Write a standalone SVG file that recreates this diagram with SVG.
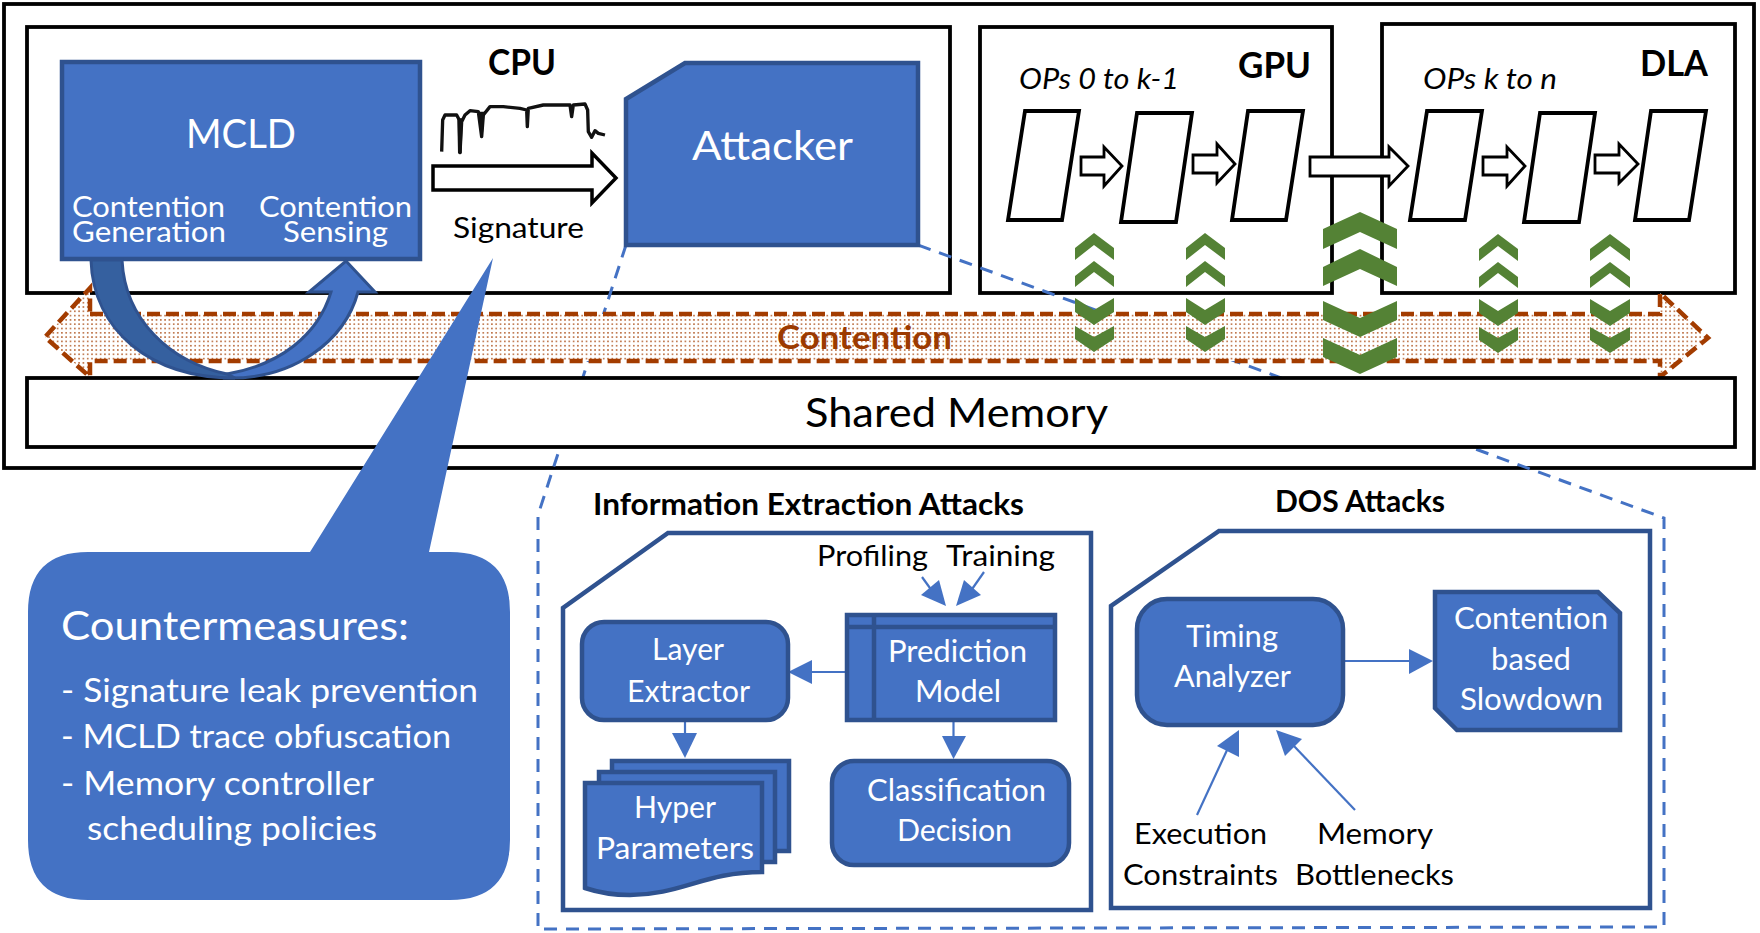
<svg xmlns="http://www.w3.org/2000/svg" width="1760" height="933" viewBox="0 0 1760 933">
<style>
text{font-family:Lato,"Liberation Sans",sans-serif;font-weight:400}
.w{fill:#fff}.k{fill:#000}
.b{font-weight:700;fill:#000}
.i{font-style:italic;fill:#000}
.box{fill:#fff;stroke:#000;stroke-width:3.8}
.blue{fill:#4472c4;stroke:#2f528f;stroke-width:4.5}
.cont{fill:#fff;stroke:#2f528f;stroke-width:4.5}
.wa{fill:#fff;stroke:#000;stroke-width:3.5}
.op{fill:#fff;stroke:#000;stroke-width:3.8}
.ln{stroke:#4472c4;stroke-width:2.2;fill:none}
.hd{fill:#4472c4;stroke:none}
.gr{fill:#548235}
.s28{font-size:29px}.s29{font-size:30px}.s27{font-size:28px}.s32{font-size:33px}
</style>
<defs>
<pattern id="dots" width="4.3" height="4.3" patternUnits="userSpaceOnUse">
<rect width="4.3" height="4.3" fill="#fff"/>
<rect x="1" y="1" width="1.4" height="1.4" fill="#a33c00"/>
</pattern>
</defs>

<g id="system"><rect class="box" x="4" y="4" width="1750" height="464"/></g>
<g id="cpu-box"><rect class="box" x="27" y="27" width="923" height="266"/></g>
<g id="gpu-box"><rect class="box" x="980" y="27" width="352" height="266"/></g>
<g id="dla-box"><rect class="box" x="1382" y="24" width="353" height="269"/></g>
<g id="ie-container"><polygon class="cont" points="668,533 1091,533 1091,910 563,910 563,608"/></g>
<g id="dos-container"><polygon class="cont" points="1219,531 1650,531 1650,908 1111,908 1111,606"/></g>

<g id="connectors">
<polyline fill="none" stroke="#4472c4" stroke-width="3" stroke-dasharray="13 9" points="626,245 538,515 538,929 1664,927 1664,518 918,245"/>
<polygon class="wa" points="433,166 592,166 592,153 616,178 592,203 592,190 433,190"/>
<polygon class="wa" stroke-width="2.8" style="stroke-width:2.8" points="1081,157 1104,157 1104,147 1122,166 1104,186 1104,175 1081,175"/>
<polygon class="wa" style="stroke-width:2.8" points="1193,155 1217,155 1217,144 1235,164 1217,183 1217,173 1193,173"/>
<polygon class="wa" style="stroke-width:2.8" points="1310,157 1389,157 1389,147 1408,166 1389,186 1389,176 1310,176"/>
<polygon class="wa" style="stroke-width:2.8" points="1483,157 1507,157 1507,147 1525,166 1507,186 1507,175 1483,175"/>
<polygon class="wa" style="stroke-width:2.8" points="1595,155 1619,155 1619,144 1638,164 1619,183 1619,173 1595,173"/>
<line class="ln" x1="922" y1="577" x2="935" y2="595"/><polygon class="hd" points="946,606 921,595 939,580"/>
<line class="ln" x1="984" y1="572" x2="970" y2="592"/><polygon class="hd" points="956,606 981,595 964,580"/>
<line class="ln" x1="846" y1="672" x2="805" y2="672"/><polygon class="hd" points="788,672 812,660 812,684"/>
<line class="ln" x1="685" y1="720" x2="685" y2="735"/><polygon class="hd" points="685,758 672,733 697,733"/>
<line class="ln" x1="953.500" y1="720" x2="953.500" y2="738"/><polygon class="hd" points="953.500,759 942,736 966,736"/>
<line class="ln" x1="1343" y1="661" x2="1412" y2="661"/><polygon class="hd" points="1433,661 1409,649 1409,674"/>
<line class="ln" x1="1197" y1="815" x2="1228" y2="748"/><polygon class="hd" points="1239,730 1217,746 1239,757"/>
<line class="ln" x1="1355" y1="810" x2="1293" y2="745"/><polygon class="hd" points="1276,730 1302,739 1285,756"/>
</g>

<g id="contention"><polygon fill="url(#dots)" stroke="#a33c00" stroke-width="4.5" stroke-dasharray="13 6" points="90,314 1660,314 1660,293 1708,338 1660,377 1660,361 90,361 90,377 45,337 90,288"/>
<text x="777" y="349" textLength="175" lengthAdjust="spacingAndGlyphs" font-size="32" style="font-weight:700;fill:#9c3a00">Contention</text></g>

<g id="shared-memory"><rect class="box" x="27" y="378" width="1708" height="69"/>
<text class="k" x="805" y="427" textLength="303" lengthAdjust="spacingAndGlyphs" font-size="41">Shared Memory</text></g>

<g id="cpu-label"><text class="b" x="488" y="75" textLength="68" lengthAdjust="spacingAndGlyphs" font-size="36">CPU</text></g>

<g id="mcld"><rect class="blue" x="62" y="62" width="358" height="197"/>
<text class="w" x="186" y="148" textLength="110" lengthAdjust="spacingAndGlyphs" font-size="41">MCLD</text>
<text class="w s28" x="72" y="217" textLength="153" lengthAdjust="spacingAndGlyphs">Contention</text>
<text class="w s28" x="72" y="242" textLength="154" lengthAdjust="spacingAndGlyphs">Generation</text>
<text class="w s28" x="259" y="217" textLength="153" lengthAdjust="spacingAndGlyphs">Contention</text>
<text class="w s28" x="283" y="242" textLength="105" lengthAdjust="spacingAndGlyphs">Sensing</text></g>

<g id="trace" transform="translate(420 90) scale(.3333)"><path fill="none" stroke="#111" stroke-width="10" stroke-linejoin="round" d="M65,185 L68,90 L75,75 L110,75 L118,90 L120,188 L125,95 L135,75 L150,62 L175,65 L185,140 L190,75 L210,50 L250,50 L300,55 L320,60 L322,110 L325,55 L370,45 L450,45 L455,80 L460,45 L495,42 L503,60 L505,125 L515,142 L525,122 L535,130 L555,135"/><path fill="#111" d="M112,85 L128,85 L125,190 L114,190 Z M177,65 L194,65 L188,142 L182,142 Z"/></g>

<g id="signature"><text class="k s27" x="453" y="238" textLength="131" lengthAdjust="spacingAndGlyphs">Signature</text></g>

<g id="attacker"><polygon class="blue" points="685,63 918,63 918,245 626,245 626,99"/>
<text class="w" x="692" y="160" textLength="161" lengthAdjust="spacingAndGlyphs" font-size="41">Attacker</text></g>

<g id="gpu-content">
<text class="b" x="1238" y="78" textLength="73" lengthAdjust="spacingAndGlyphs" font-size="36">GPU</text>
<text class="i s28" x="1019" y="89" textLength="160" lengthAdjust="spacingAndGlyphs">OPs 0 to k-1</text>
<polygon class="op" points="1025,111 1079,111 1062,220 1008,220"/>
<polygon class="op" points="1137,113 1192,113 1176,222 1121,222"/>
<polygon class="op" points="1248,111 1303,111 1286,220 1232,220"/></g>
<g id="dla-content">
<text class="b" x="1640" y="76" textLength="68" lengthAdjust="spacingAndGlyphs" font-size="36">DLA</text>
<text class="i s28" x="1423" y="89" textLength="134" lengthAdjust="spacingAndGlyphs">OPs k to n</text>
<polygon class="op" points="1427,111 1482,111 1465,220 1410,220"/>
<polygon class="op" points="1540,113 1595,113 1579,222 1524,222"/>
<polygon class="op" points="1651,111 1706,111 1689,220 1635,220"/></g>

<g id="chevrons" class="gr">
<polygon points="1094,233 1114,248 1114,260 1094,245 1075,260 1075,248"/>
<polygon points="1094,261 1114,276 1114,287 1094,272 1075,287 1075,276"/>
<polygon points="1075,298 1094,310 1114,298 1114,312 1094,325 1075,312"/>
<polygon points="1075,326 1094,337 1114,326 1114,339 1094,352 1075,339"/>
<polygon points="1205,233 1225,248 1225,260 1205,245 1186,260 1186,248"/>
<polygon points="1205,261 1225,276 1225,287 1205,272 1186,287 1186,276"/>
<polygon points="1186,298 1205,310 1225,298 1225,312 1205,325 1186,312"/>
<polygon points="1186,326 1205,337 1225,326 1225,339 1205,352 1186,339"/>
<polygon points="1498,234 1518,249 1518,261 1498,246 1479,261 1479,249"/>
<polygon points="1498,262 1518,277 1518,288 1498,273 1479,288 1479,277"/>
<polygon points="1479,299 1498,311 1518,299 1518,313 1498,326 1479,313"/>
<polygon points="1479,327 1498,338 1518,327 1518,340 1498,353 1479,340"/>
<polygon points="1610,234 1630,249 1630,261 1610,246 1590,261 1590,249"/>
<polygon points="1610,262 1630,277 1630,288 1610,273 1590,288 1590,277"/>
<polygon points="1590,299 1610,311 1630,299 1630,313 1610,326 1590,313"/>
<polygon points="1590,327 1610,338 1630,327 1630,340 1610,353 1590,340"/>
<polygon points="1360,212 1397,229 1397,249 1360,232 1323,249 1323,229"/>
<polygon points="1360,249 1397,267 1397,286 1360,269 1323,286 1323,267"/>
<polygon points="1323,301 1360,318 1397,301 1397,320 1360,337 1323,320"/>
<polygon points="1323,338 1360,355 1397,338 1397,357 1360,374 1323,357"/>
</g>

<g id="curved-arrow" stroke="#2f528f" stroke-width="3">
<path fill="#4472c4" d="M225,378 C295,380 345,340 358,292 L375,292 L346,261 L309,292 L331,292 C318,335 280,365 227,374 Z"/>
<path fill="#35609f" d="M91,260 C93,330 150,378 235,378 L227,374 C170,362 125,320 122,260 Z"/>
</g>

<g id="prediction-model"><rect class="blue" x="847" y="615" width="208" height="105"/>
<path fill="none" stroke="#2f528f" stroke-width="4.5" d="M847,627H1055M874,615V720"/>
<text class="w s29" x="888" y="662" textLength="139" lengthAdjust="spacingAndGlyphs">Prediction</text>
<text class="w s29" x="915" y="702" textLength="86" lengthAdjust="spacingAndGlyphs">Model</text></g>

<g id="layer-extractor"><rect class="blue" x="582" y="622" width="206" height="98" rx="22"/>
<text class="w s29" x="652" y="660" textLength="72" lengthAdjust="spacingAndGlyphs">Layer</text>
<text class="w s29" x="627" y="702" textLength="123" lengthAdjust="spacingAndGlyphs">Extractor</text></g>

<g id="hyper-parameters">
<rect class="blue" x="612" y="761" width="177" height="90"/>
<rect class="blue" x="599" y="772" width="176" height="90"/>
<path class="blue" d="M585,783 H762 V872 C705,872 680,895 630,895 C610,895 597,892 585,888 Z"/>
<text class="w s29" x="634" y="818" textLength="82" lengthAdjust="spacingAndGlyphs">Hyper</text>
<text class="w s29" x="596" y="859" textLength="158" lengthAdjust="spacingAndGlyphs">Parameters</text></g>

<g id="classification"><rect class="blue" x="832" y="761" width="237" height="104" rx="22"/>
<text class="w s29" x="867" y="801" textLength="179" lengthAdjust="spacingAndGlyphs">Classification</text>
<text class="w s29" x="897" y="841" textLength="115" lengthAdjust="spacingAndGlyphs">Decision</text></g>

<g id="timing-analyzer"><rect class="blue" x="1137" y="599" width="206" height="126" rx="30"/>
<text class="w s29" x="1186" y="647" textLength="92" lengthAdjust="spacingAndGlyphs">Timing</text>
<text class="w s29" x="1174" y="687" textLength="117" lengthAdjust="spacingAndGlyphs">Analyzer</text></g>

<g id="slowdown"><polygon class="blue" points="1435,592 1598,592 1620,613 1620,730 1457,730 1435,708"/>
<text class="w s29" x="1454" y="629" textLength="154" lengthAdjust="spacingAndGlyphs">Contention</text>
<text class="w s29" x="1491" y="670" textLength="80" lengthAdjust="spacingAndGlyphs">based</text>
<text class="w s29" x="1460" y="710" textLength="143" lengthAdjust="spacingAndGlyphs">Slowdown</text></g>

<g id="labels">
<text class="b s29" x="593" y="515" textLength="431" lengthAdjust="spacingAndGlyphs">Information Extraction Attacks</text>
<text class="b s29" x="1275" y="512" textLength="170" lengthAdjust="spacingAndGlyphs">DOS Attacks</text>
<text class="k s28" x="817" y="566" textLength="111" lengthAdjust="spacingAndGlyphs">Profiling</text>
<text class="k s28" x="946" y="566" textLength="109" lengthAdjust="spacingAndGlyphs">Training</text>
<text class="k s28" x="1134" y="844" textLength="133" lengthAdjust="spacingAndGlyphs">Execution</text>
<text class="k s28" x="1123" y="885" textLength="155" lengthAdjust="spacingAndGlyphs">Constraints</text>
<text class="k s28" x="1317" y="844" textLength="116" lengthAdjust="spacingAndGlyphs">Memory</text>
<text class="k s28" x="1295" y="885" textLength="159" lengthAdjust="spacingAndGlyphs">Bottlenecks</text>
</g>

<g id="countermeasures"><path fill="#4472c4" d="M88,552 H310 L493,258 L429,552 H450 Q510,552 510,612 V840 Q510,900 450,900 H88 Q28,900 28,840 V612 Q28,552 88,552 Z"/>
<text class="w" x="61" y="640" textLength="348" lengthAdjust="spacingAndGlyphs" font-size="40">Countermeasures:</text>
<text class="w s32" x="61" y="702" textLength="417" lengthAdjust="spacingAndGlyphs">- Signature leak prevention</text>
<text class="w s32" x="61" y="748" textLength="390" lengthAdjust="spacingAndGlyphs">- MCLD trace obfuscation</text>
<text class="w s32" x="61" y="795" textLength="313" lengthAdjust="spacingAndGlyphs">- Memory controller</text>
<text class="w s32" x="87" y="840" textLength="290" lengthAdjust="spacingAndGlyphs">scheduling policies</text></g>
</svg>
